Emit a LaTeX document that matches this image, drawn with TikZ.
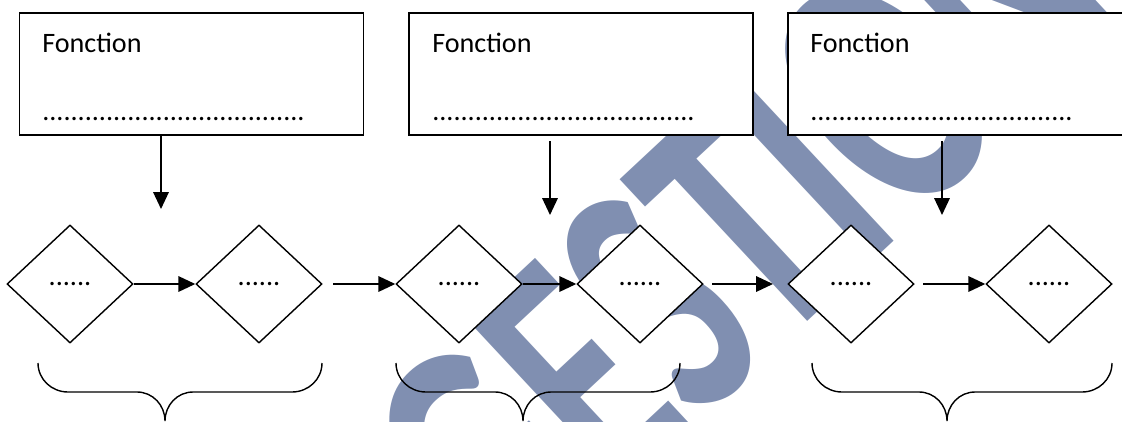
\documentclass[tikz,border=0pt]{standalone}
\usepackage{graphicx}
\usepackage{fontspec}
\setmainfont{Carlito}
\usetikzlibrary{shapes.geometric,arrows.meta}
\definecolor{wmark}{RGB}{128,143,177}
\begin{document}
\begin{tikzpicture}[x=0.025cm, y=-0.025cm,
    box/.style={draw, fill=white, line width=1.2pt, minimum width=8.6cm, minimum height=3.05cm, inner sep=0pt},
    choice/.style={diamond, draw, fill=white, line width=1pt, minimum width=3.15cm, minimum height=2.95cm, inner sep=0pt, font=\fontsize{20}{24}\selectfont},
    txt/.style={anchor=base west, inner sep=0pt, font=\fontsize{20}{24}\selectfont},
    link/.style={-{Triangle[length=12pt,width=11pt]}, line width=1.2pt},
    brace/.style={line width=1pt}]
  \useasboundingbox (0,0) rectangle (1122,421);
  \clip (0,0) rectangle (1122,421);

  \node[anchor=base west, inner sep=0pt, text=wmark, font=\fontsize{254}{254}\selectfont\bfseries, rotate=43] (wm) at (508,601) {\scalebox{0.65}[1]{GESTION}};

  \node[box] (f1) at (191.5,74) {};
  \node[box] (f2) at (581,74) {};
  \node[box] (f3) at (960,74) {};

  \node[txt] (t1) at (42,52) {Fonction};
  \node[txt] (t2) at (432,52) {Fonction};
  \node[txt] (t3) at (810,52) {Fonction};
  \node[txt] (p1) at (42,120) {.....................................};
  \node[txt] (p2) at (432,120) {.....................................};
  \node[txt] (p3) at (810,120) {.....................................};

  \node[choice] (d1) at (70,284) {......};
  \node[choice] (d2) at (259,284) {......};
  \node[choice] (d3) at (459,284) {......};
  \node[choice] (d4) at (640,284) {......};
  \node[choice] (d5) at (851,284) {......};
  \node[choice] (d6) at (1049,284) {......};

  \coordinate (s1) at (161,135);
  \coordinate (e1) at (161,209);
  \coordinate (s2) at (550,141);
  \coordinate (e2) at (550,215);
  \coordinate (s3) at (942,141);
  \coordinate (e3) at (942,215);
  \coordinate (g2) at (333,284);
  \coordinate (g4) at (712,284);
  \coordinate (h4) at (773,284);
  \coordinate (g5) at (923,284);

  \draw[link] (s1) -- (e1);
  \draw[link] (s2) -- (e2);
  \draw[link] (s3) -- (e3);

  \draw[link] (d1) -- (d2);
  \draw[link] (g2) -- (d3);
  \draw[link] (d3) -- (d4);
  \draw[link] (g4) -- (h4);
  \draw[link] (g5) -- (d6);

  \draw[brace] (38,363) to[out=-90,in=180] (68,392) -- (137,392) to[out=0,in=90] (165,421) to[out=90,in=180] (193,392) -- (292,392) to[out=0,in=-90] (322,363);
  \draw[brace] (396,363) to[out=-90,in=180] (426,392) -- (495,392) to[out=0,in=90] (523,421) to[out=90,in=180] (551,392) -- (650,392) to[out=0,in=-90] (680,363);
  \draw[brace] (812,363) to[out=-90,in=180] (842,392) -- (919,392) to[out=0,in=90] (947,421) to[out=90,in=180] (975,392) -- (1082,392) to[out=0,in=-90] (1112,363);
\end{tikzpicture}
\end{document}
